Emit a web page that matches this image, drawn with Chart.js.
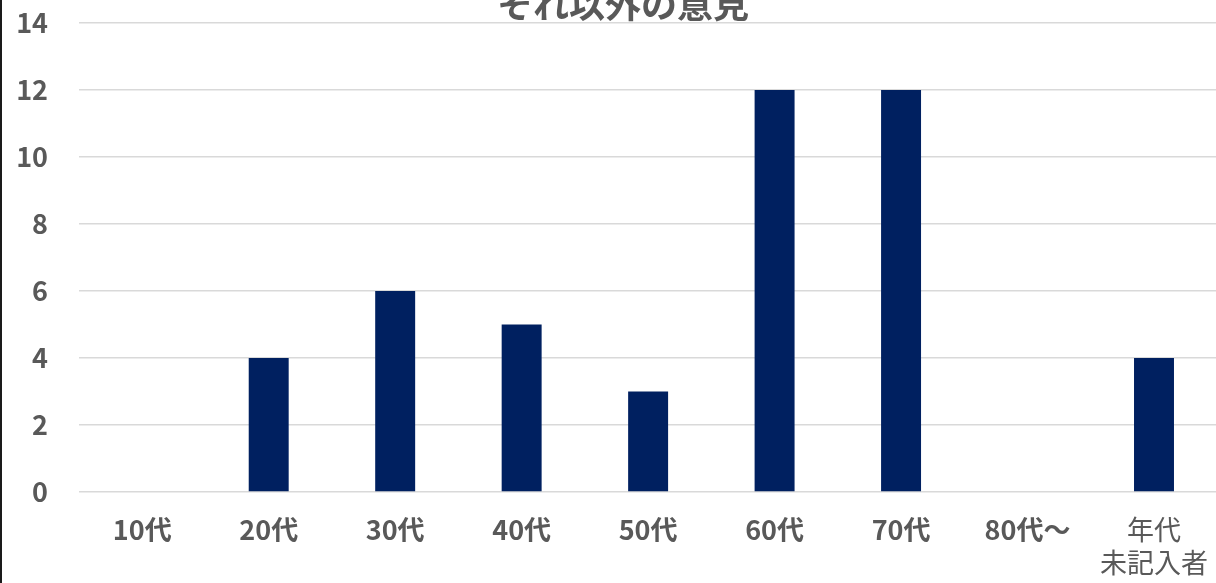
<!DOCTYPE html>
<html>
<head>
<meta charset="utf-8">
<script src="https://cdn.jsdelivr.net/npm/chart.js@4"></script>
<style>
  html, body { margin: 0; padding: 0; background: #fff; overflow: hidden; }
  #wrap { position: relative; width: 1216px; height: 583px; overflow: hidden; }
  #frame { position: absolute; left: 0; top: 0; width: 2px; height: 583px; background: #1a1a1a; }
</style>
</head>
<body>
<div id="wrap">
  <canvas id="c" width="1229" height="583"></canvas>
  <div id="frame"></div>
</div>
<script>
const chartTitle = 'それ以外の意見';
const categories = ['10代', '20代', '30代', '40代', '50代', '60代', '70代', '80代〜', ['年代', '未記入者']];
const values = [0, 4, 6, 5, 3, 12, 12, 0, 4];
const yTicks = [0, 2, 4, 6, 8, 10, 12, 14];

const FONT = "'Noto Sans CJK JP', 'Noto Sans', sans-serif";
const GRAY = '#595959';

const titlePlugin = {
  id: 'cutTitle',
  afterDraw(chart) {
    const ctx = chart.ctx;
    ctx.save();
    ctx.font = 'bold 36px ' + FONT;
    ctx.fillStyle = GRAY;
    ctx.textAlign = 'center';
    ctx.textBaseline = 'middle';
    ctx.fillText(chartTitle, 623, 4);
    ctx.restore();
  }
};

new Chart(document.getElementById('c'), {
  type: 'bar',
  data: {
    labels: categories,
    datasets: [{
      data: values,
      backgroundColor: '#002060',
      borderWidth: 0,
      categoryPercentage: 1,
      barPercentage: 0.316
    }]
  },
  options: {
    responsive: false,
    animation: false,
    layout: { padding: { top: 0, right: 0, bottom: 0, left: 0 } },
    plugins: {
      legend: { display: false },
      title: { display: false },
      tooltip: { enabled: false }
    },
    scales: {
      x: {
        grid: { display: false, drawTicks: false },
        border: { display: false },
        ticks: {
          color: GRAY,
          padding: 21,
          maxRotation: 0,
          autoSkip: false,
          font: (ctx) => ({
            family: FONT,
            size: 27,
            weight: ctx.index === 8 ? 'normal' : 'bold',
            lineHeight: 1.22
          })
        },
        afterFit(scale) { scale.height = 91; scale.paddingTop = 0; }
      },
      y: {
        min: 0,
        max: 14,
        afterBuildTicks(scale) { scale.ticks = yTicks.map(v => ({ value: v })); },
        grid: { color: '#d9d9d9', lineWidth: 1.5, drawTicks: false },
        border: { display: false },
        ticks: {
          color: GRAY,
          padding: 31,
          font: { family: FONT, size: 27, weight: 'bold' }
        },
        afterFit(scale) { scale.width = 79; scale.paddingTop = 23; }
      }
    }
  },
  plugins: [titlePlugin]
});
</script>
</body>
</html>
